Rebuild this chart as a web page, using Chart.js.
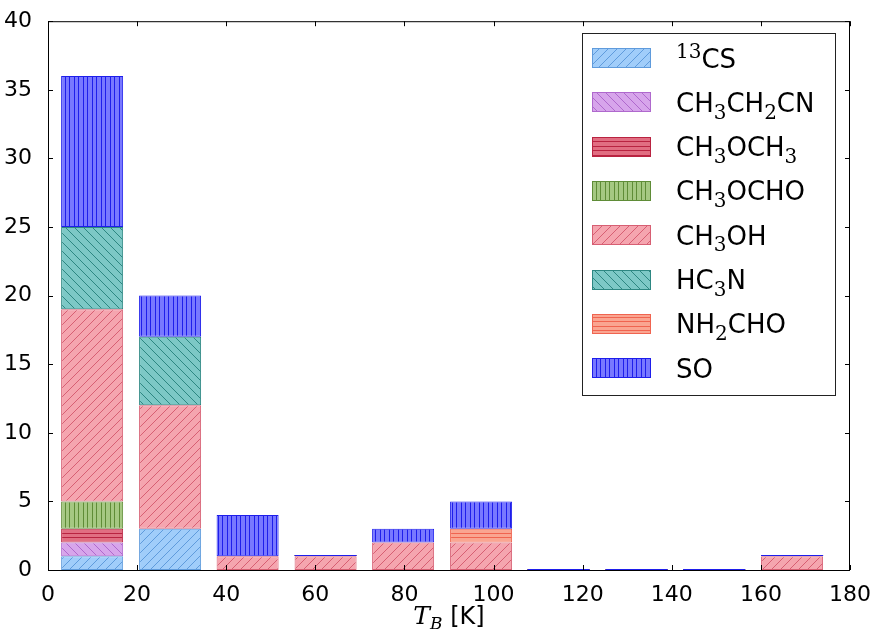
<!DOCTYPE html>
<html>
<head>
<meta charset="utf-8">
<script src="https://cdn.jsdelivr.net/npm/chart.js@4.4.0/dist/chart.umd.min.js"></script>
<style>
  html, body { margin: 0; padding: 0; background: #fff; }
  #wrap { width: 876px; height: 633px; }
</style>
</head>
<body>
<div id="wrap"><canvas id="histChart" width="876" height="633"></canvas></div>
<script>
// bin centres of the T_B histogram (K)
const binCenters = [9.9, 27.4, 44.8, 62.3, 79.7, 97.2, 114.6, 132.1, 149.5, 167.0];

// legend / dataset labels, '_' = subscript char, '^' = superscript digits
const speciesLabels = ['^13CS', 'CH_3CH_2CN', 'CH_3OCH_3', 'CH_3OCHO', 'CH_3OH', 'HC_3N', 'NH_2CHO', 'SO'];

// counts per bin, stacked bottom -> top in this order
const cs13     = [1, 3, 0, 0, 0, 0, 0, 0, 0, 0];
const ch3ch2cn = [1, 0, 0, 0, 0, 0, 0, 0, 0, 0];
const ch3och3  = [1, 0, 0, 0, 0, 0, 0, 0, 0, 0];
const ch3ocho  = [2, 0, 0, 0, 0, 0, 0, 0, 0, 0];
const ch3oh    = [14, 9, 1, 1, 2, 2, 0, 0, 0, 1];
const hc3n     = [6, 5, 0, 0, 0, 0, 0, 0, 0, 0];
const nh2cho   = [0, 0, 0, 0, 0, 1, 0, 0, 0, 0];
const so       = [11, 3, 3, 0, 1, 2, 0, 0, 0, 0];

const xTicks = [0, 20, 40, 60, 80, 100, 120, 140, 160, 180];
const yTicks = [0, 5, 10, 15, 20, 25, 30, 35, 40];

const seriesValues = [cs13, ch3ch2cn, ch3och3, ch3ocho, ch3oh, hc3n, nh2cho, so];

// fill, edge/hatch colour, hatch kind
const seriesStyles = [
    { fill: 'rgb(160,205,250)', edge: 'rgb(95,155,220)',  hatch: '/' },
    { fill: 'rgb(215,165,235)', edge: 'rgb(175,105,205)', hatch: '\\' },
    { fill: 'rgb(225,110,130)', edge: 'rgb(185,35,65)',   hatch: '-' },
    { fill: 'rgb(165,200,130)', edge: 'rgb(95,140,55)',   hatch: '|' },
    { fill: 'rgb(245,165,175)', edge: 'rgb(215,95,115)',  hatch: '/' },
    { fill: 'rgb(125,200,198)', edge: 'rgb(45,135,130)',  hatch: '\\' },
    { fill: 'rgb(250,165,145)', edge: 'rgb(240,100,80)',  hatch: '-' },
    { fill: 'rgb(120,120,255)', edge: 'rgb(30,30,235)',   hatch: '|' }
];

function makeHatch(fill, line, kind) {
    const s = 9;
    const c = document.createElement('canvas');
    c.width = s; c.height = s;
    const g = c.getContext('2d');
    g.fillStyle = fill; g.fillRect(0, 0, s, s);
    g.strokeStyle = line; g.fillStyle = line; g.lineWidth = 1;
    g.beginPath();
    if (kind === '/') {
        g.moveTo(-2, s + 2); g.lineTo(s + 2, -2);
        g.moveTo(-2, 2); g.lineTo(2, -2);
        g.moveTo(s - 2, s + 2); g.lineTo(s + 2, s - 2);
        g.stroke();
    } else if (kind === '\\') {
        g.moveTo(-2, -2); g.lineTo(s + 2, s + 2);
        g.moveTo(s - 2, -2); g.lineTo(s + 2, 2);
        g.moveTo(-2, s - 2); g.lineTo(2, s + 2);
        g.stroke();
    } else if (kind === '|') {
        g.fillRect(2, 0, 1, s); g.fillRect(6, 0, 1, s);
    } else {
        g.fillRect(0, 2, s, 1); g.fillRect(0, 6, s, 1);
    }
    return g.createPattern(c, 'repeat');
}

function plainLabel(markup) {
    return markup.replace(/_(\d)/g, (m, d) => '₀₁₂₃₄₅₆₇₈₉'[d]).replace(/\^(\d+)/g, (m, d) => d.split('').map(x => '⁰¹²³⁴⁵⁶⁷⁸⁹'[x]).join(''));
}

function parseRich(markup) {
    const parts = [];
    let i = 0, buf = '';
    while (i < markup.length) {
        const ch = markup[i];
        if (ch === '_') {
            if (buf) { parts.push({ t: buf, k: 'n' }); buf = ''; }
            parts.push({ t: markup[i + 1], k: 'sub' }); i += 2;
        } else if (ch === '^') {
            if (buf) { parts.push({ t: buf, k: 'n' }); buf = ''; }
            let j = i + 1, d = '';
            while (j < markup.length && /\d/.test(markup[j])) { d += markup[j]; j++; }
            parts.push({ t: d, k: 'sup' }); i = j;
        } else { buf += ch; i++; }
    }
    if (buf) parts.push({ t: buf, k: 'n' });
    return parts;
}

function drawRich(ctx, markup, x, baseline, size) {
    ctx.textAlign = 'left';
    ctx.textBaseline = 'alphabetic';
    parseRich(markup).forEach(p => {
        if (p.k === 'n') {
            ctx.font = `${size}px "DejaVu Sans"`;
            ctx.fillText(p.t, x, baseline);
        } else {
            ctx.font = `${Math.round(size * 0.76)}px "DejaVu Serif"`;
            ctx.fillText(p.t, x, p.k === 'sub' ? baseline + size * 0.26 : baseline - size * 0.36);
        }
        x += ctx.measureText(p.t).width;
    });
}

const patterns = seriesStyles.map(s => makeHatch(s.fill, s.edge, s.hatch));

const datasets = seriesValues.map((vals, i) => ({
    label: plainLabel(speciesLabels[i]),
    data: vals.map((v, k) => ({ x: binCenters[k], y: v })),
    backgroundColor: patterns[i],
    borderColor: seriesStyles[i].edge,
    borderWidth: 1,
    borderSkipped: false,
    categoryPercentage: 1.0,
    barPercentage: 0.8
}));

// matplotlib still strokes the edge of zero-height bars; only the ones on top of a stack stay visible
const zeroEdges = {
    id: 'zeroEdges',
    afterDatasetsDraw(chart) {
        const ctx = chart.ctx;
        ctx.save();
        ctx.lineWidth = 1;
        chart.data.datasets.forEach((ds, i) => {
            const meta = chart.getDatasetMeta(i);
            meta.data.forEach((bar, k) => {
                if (seriesValues[i][k] !== 0) return;
                if (seriesValues.slice(i + 1).some(arr => arr[k] !== 0)) return;
                const w = bar.width;
                const py = Math.round(bar.y) - 0.5;
                ctx.strokeStyle = seriesStyles[i].edge;
                ctx.beginPath();
                ctx.moveTo(bar.x - w / 2, py); ctx.lineTo(bar.x + w / 2, py);
                ctx.stroke();
            });
        });
        ctx.restore();
    }
};

const frameAndExtras = {
    id: 'frameAndExtras',
    afterDraw(chart) {
        const { ctx, chartArea: a, scales: { x, y } } = chart;
        ctx.save();
        // frame
        ctx.strokeStyle = '#000';
        ctx.lineWidth = 1;
        ctx.strokeRect(a.left + 0.5, a.top + 0.5, a.right - a.left - 1, a.bottom - a.top);
        // inward ticks on all four sides
        const tl = 5;
        ctx.beginPath();
        xTicks.forEach(v => {
            const px = Math.round(x.getPixelForValue(v)) + 0.5;
            ctx.moveTo(px, a.bottom); ctx.lineTo(px, a.bottom - tl);
            ctx.moveTo(px, a.top); ctx.lineTo(px, a.top + tl);
        });
        yTicks.forEach(v => {
            const py = Math.round(y.getPixelForValue(v)) + 0.5;
            ctx.moveTo(a.left, py); ctx.lineTo(a.left + tl, py);
            ctx.moveTo(a.right, py); ctx.lineTo(a.right - tl, py);
        });
        ctx.stroke();

        // x axis title: T_B [K]
        ctx.fillStyle = '#000';
        ctx.textBaseline = 'alphabetic';
        ctx.textAlign = 'left';
        const base = 624;
        ctx.font = 'italic 25px "DejaVu Serif"';
        const wT = ctx.measureText('T').width;
        ctx.font = 'italic 17px "DejaVu Serif"';
        const wB = ctx.measureText('B').width;
        ctx.font = '24px "DejaVu Sans"';
        const wK = ctx.measureText(' [K]').width;
        let tx = (a.left + a.right) / 2 - (wT + wB + wK) / 2;
        ctx.font = 'italic 25px "DejaVu Serif"';
        ctx.fillText('T', tx, base); tx += wT;
        ctx.font = 'italic 17px "DejaVu Serif"';
        ctx.fillText('B', tx, base + 5); tx += wB;
        ctx.font = '24px "DejaVu Sans"';
        ctx.fillText(' [K]', tx, base);

        // legend box
        const lx = 582, ly = 33, lw = 253, lh = 362;
        ctx.fillStyle = '#fff';
        ctx.fillRect(lx, ly, lw, lh);
        ctx.strokeStyle = '#222';
        ctx.strokeRect(lx + 0.5, ly + 0.5, lw, lh);
        speciesLabels.forEach((lab, i) => {
            const cy = 58 + i * 44.3;
            ctx.fillStyle = patterns[i];
            ctx.fillRect(592, Math.round(cy - 10), 59, 20);
            ctx.strokeStyle = seriesStyles[i].edge;
            ctx.strokeRect(592.5, Math.round(cy - 10) + 0.5, 58, 19);
            ctx.fillStyle = '#000';
            drawRich(ctx, lab, 676, cy + 9.5, 26);
        });
        ctx.restore();
    }
};

new Chart(document.getElementById('histChart').getContext('2d'), {
    type: 'bar',
    data: { datasets },
    options: {
        responsive: false,
        devicePixelRatio: 1,
        animation: false,
        layout: { padding: { left: 0, top: 20, right: 26, bottom: 0 } },
        plugins: { legend: { display: false }, tooltip: { enabled: false } },
        scales: {
            x: {
                type: 'linear', stacked: true, offset: false, min: 0, max: 180,
                grid: { display: false, offset: false }, border: { display: false },
                afterBuildTicks: s => { s.ticks = xTicks.map(v => ({ value: v })); },
                afterFit: s => { s.height = 63; },
                ticks: { color: '#000', padding: 4, maxRotation: 0, autoSkip: false, font: { size: 22, family: '"DejaVu Sans"' } }
            },
            y: {
                type: 'linear', stacked: true, min: 0, max: 40,
                grid: { display: false }, border: { display: false },
                afterBuildTicks: s => { s.ticks = yTicks.map(v => ({ value: v })); },
                afterFit: s => { s.width = 48; },
                ticks: { color: '#000', padding: 8, font: { size: 22, family: '"DejaVu Sans"' } }
            }
        }
    },
    plugins: [zeroEdges, frameAndExtras]
});
</script>
</body>
</html>
